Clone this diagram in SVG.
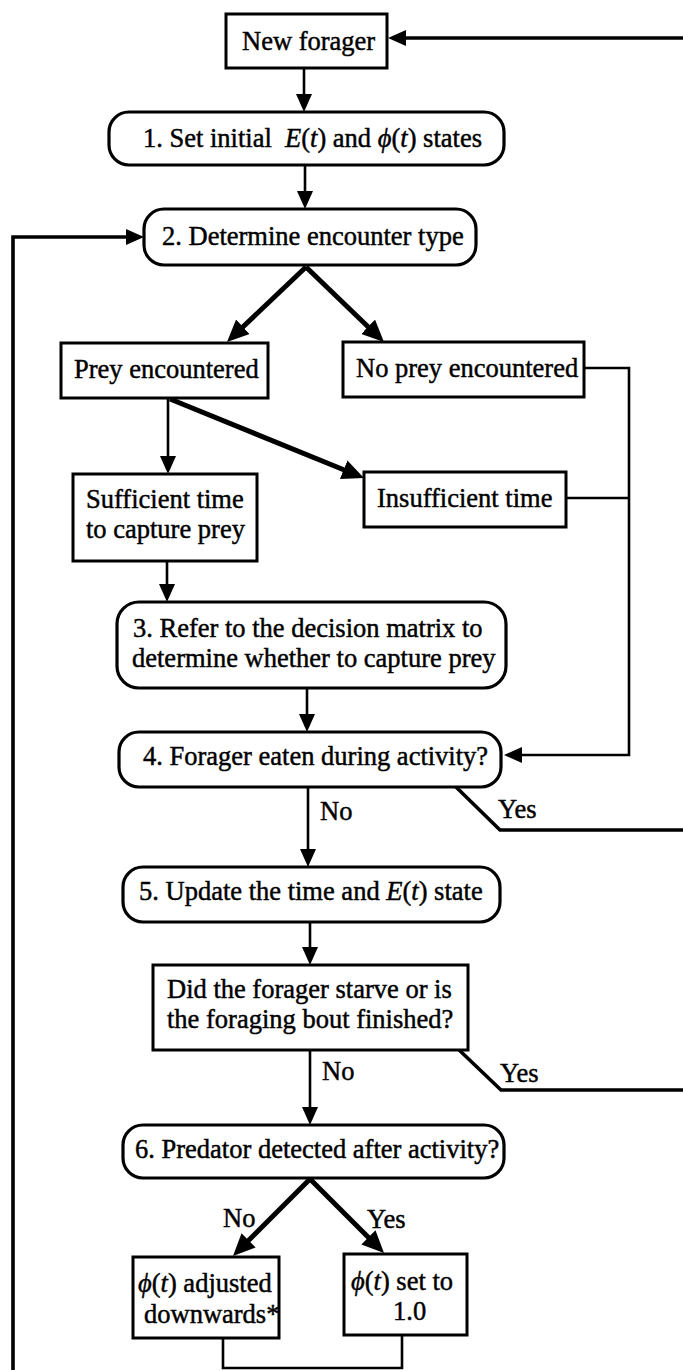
<svg xmlns="http://www.w3.org/2000/svg" width="683" height="1370" viewBox="0 0 683 1370">
<style>
  text { font-family: "Liberation Serif", "Times New Roman", serif; font-size: 26.5px; fill: #000; stroke: #000; stroke-width: 0.45; }
  .box { fill: #fff; stroke: #000; stroke-width: 3; }
  .rbox { fill: #fff; stroke: #000; stroke-width: 3.2; }
  .ln { fill: none; stroke: #000; stroke-width: 2.6; }
  .thk { fill: none; stroke: #000; stroke-width: 3.6; }
  .thick { fill: none; stroke: #000; stroke-width: 5; }
  .it { font-style: italic; }
</style>
<defs>
  <marker id="arr" markerUnits="userSpaceOnUse" markerWidth="18" markerHeight="16" refX="10" refY="8" orient="auto">
    <path d="M0,0 L18,8 L0,16 Z" fill="#000"/>
  </marker>
  <marker id="arrL" markerUnits="userSpaceOnUse" markerWidth="22" markerHeight="20" refX="10" refY="10" orient="auto">
    <path d="M0,0 L22,10 L0,20 Z" fill="#000"/>
  </marker>
</defs>
<rect width="683" height="1370" fill="#fff"/>

<g id="connectors">
  <path class="thk" d="M683,38 L396,38" marker-end="url(#arr)"/>
  <path class="ln" d="M304,68 L304,104" marker-end="url(#arr)"/>
  <path class="ln" d="M305,165 L305,201" marker-end="url(#arr)"/>
  <path class="thk" d="M13,1370 L13,237 L136,237" marker-end="url(#arr)"/>
  <path class="thick" d="M306,267 L235.7,333.7" marker-end="url(#arrL)"/>
  <path class="thick" d="M306,267 L375.3,333.7" marker-end="url(#arrL)"/>
  <path class="ln" d="M584,368 L629,368 L629,755 L512,755" marker-end="url(#arr)"/>
  <path class="ln" d="M566,498 L629,498"/>
  <path class="ln" d="M168,398 L168,466" marker-end="url(#arr)"/>
  <path class="thick" d="M170,399 L352.9,473.5" marker-end="url(#arrL)"/>
  <path class="ln" d="M167,561 L167,594" marker-end="url(#arr)"/>
  <path class="ln" d="M307,688 L307,724" marker-end="url(#arr)"/>
  <path class="ln" d="M308,787 L308,859" marker-end="url(#arr)"/>
  <path class="thk" d="M456,787 L500,830 L683,830"/>
  <path class="ln" d="M310,922 L310,957" marker-end="url(#arr)"/>
  <path class="ln" d="M310,1050 L310,1117" marker-end="url(#arr)"/>
  <path class="thk" d="M456,1047 L501,1090 L683,1090"/>
  <path class="thick" d="M310,1179 L241.5,1247.5" marker-end="url(#arrL)"/>
  <path class="thick" d="M310,1179 L375.5,1244.5" marker-end="url(#arrL)"/>
  <path class="ln" d="M223,1338 L223,1368 L402,1368 L402,1335"/>
  <text x="320" y="820">No</text>
  <text x="498" y="818">Yes</text>
  <text x="322" y="1080">No</text>
  <text x="500" y="1082">Yes</text>
  <text x="223" y="1227">No</text>
  <text x="367" y="1228">Yes</text>
</g>

<g id="new-forager">
  <rect class="box" x="226" y="14" width="161" height="54"/>
  <text x="242" y="50">New forager</text>
</g>

<g id="step1">
  <rect class="rbox" x="109" y="112" width="395" height="53" rx="20"/>
  <text x="143" y="147">1. Set initial <tspan x="285" class="it">E</tspan>(<tspan class="it">t</tspan>) and <tspan class="it">ϕ</tspan>(<tspan class="it">t</tspan>) states</text>
</g>

<g id="step2">
  <rect class="rbox" x="144" y="209" width="332" height="56" rx="20"/>
  <text x="162" y="245">2. Determine encounter type</text>
</g>

<g id="prey-encountered">
  <rect class="box" x="61" y="343" width="207" height="55"/>
  <text x="74" y="378">Prey encountered</text>
</g>

<g id="no-prey-encountered">
  <rect class="box" x="343" y="342" width="241" height="55"/>
  <text x="356" y="377">No prey encountered</text>
</g>

<g id="sufficient-time">
  <rect class="box" x="73" y="474" width="184" height="87"/>
  <text x="86" y="508">Sufficient time</text>
  <text x="86" y="538">to capture prey</text>
</g>

<g id="insufficient-time">
  <rect class="box" x="364" y="472" width="202" height="55"/>
  <text x="377" y="507">Insufficient time</text>
</g>

<g id="step3">
  <rect class="rbox" x="117" y="602" width="389" height="86" rx="22"/>
  <text x="133" y="637">3. Refer to the decision matrix to</text>
  <text x="132" y="667">determine whether to capture prey</text>
</g>

<g id="step4">
  <rect class="rbox" x="119" y="732" width="382" height="55" rx="20"/>
  <text x="143" y="765">4. Forager eaten during activity?</text>
</g>

<g id="step5">
  <rect class="rbox" x="123" y="867" width="377" height="55" rx="20"/>
  <text x="139" y="900">5. Update the time and <tspan class="it">E</tspan>(<tspan class="it">t</tspan>) state</text>
</g>

<g id="starve-check">
  <rect class="box" x="153" y="965" width="315" height="85"/>
  <text x="167" y="998">Did the forager starve or is</text>
  <text x="167" y="1028">the foraging bout finished?</text>
</g>

<g id="step6">
  <rect class="rbox" x="123" y="1125" width="381" height="53" rx="20"/>
  <text x="135" y="1158">6. Predator detected after activity?</text>
</g>

<g id="phi-adjusted">
  <rect class="box" x="133" y="1257" width="146" height="81"/>
  <text x="138" y="1292"><tspan class="it">ϕ</tspan>(<tspan class="it">t</tspan>) adjusted</text>
  <text x="144" y="1323">downwards*</text>
</g>

<g id="phi-set">
  <rect class="box" x="344" y="1254" width="123" height="81"/>
  <text x="351" y="1290"><tspan class="it">ϕ</tspan>(<tspan class="it">t</tspan>) set to</text>
  <text x="393" y="1320">1.0</text>
</g>
</svg>
